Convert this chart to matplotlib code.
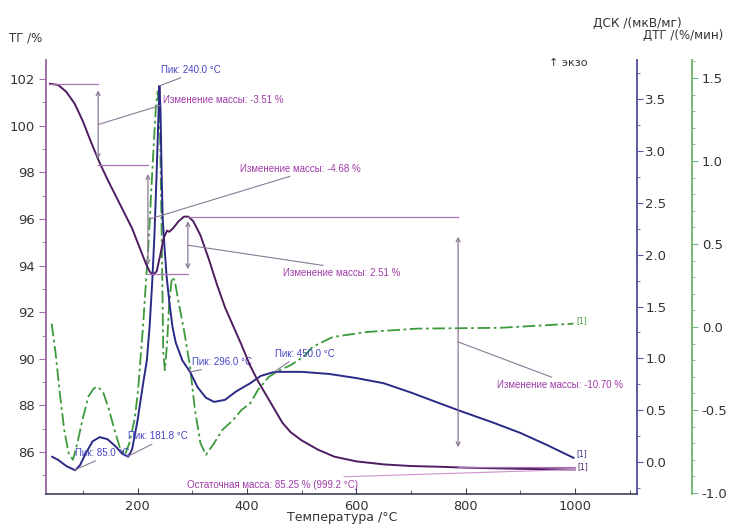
import matplotlib
matplotlib.use('Agg')
import matplotlib.pyplot as plt
import numpy as np
from matplotlib.ticker import MultipleLocator

# ---------------- data ----------------
tg_temp = [40, 55, 70, 85, 100, 115, 130, 145, 160, 175, 190, 205, 215, 222, 228, 235,
           242, 248, 254, 258, 265, 275, 285, 293, 302, 315, 330, 345, 360, 375, 390,
           405, 420, 435, 450, 465, 480, 500, 530, 560, 600, 650, 700, 750, 800, 900, 999]
tg_val = [101.8, 101.75, 101.45, 100.95, 100.2, 99.3, 98.45, 97.7, 97.0, 96.3, 95.6,
          94.7, 94.1, 93.75, 93.6, 93.75, 94.5, 95.2, 95.5, 95.45, 95.6, 95.9, 96.1,
          96.1, 95.9, 95.3, 94.3, 93.2, 92.2, 91.4, 90.6, 89.75, 89.05, 88.45, 87.85,
          87.25, 86.85, 86.5, 86.1, 85.8, 85.6, 85.47, 85.4, 85.37, 85.33, 85.28, 85.25]

dsc_temp = [44, 55, 70, 86, 95, 105, 118, 131, 145, 160, 172, 183, 190, 200, 210, 217,
            222, 227, 231, 235, 238, 240, 242, 244, 246, 249, 253, 258, 264, 270, 282,
            296, 310, 325, 340, 360, 380, 406, 425, 450, 500, 550, 600, 650, 700, 720,
            786, 850, 900, 950, 997]
dsc_val = [0.05, 0.02, -0.04, -0.08, -0.03, 0.08, 0.2, 0.24, 0.22, 0.15, 0.08, 0.05,
           0.12, 0.4, 0.75, 0.98, 1.3, 1.75, 2.2, 2.8, 3.3, 3.63, 3.4, 2.8, 2.35, 2.1,
           1.8, 1.55, 1.3, 1.15, 0.98, 0.87, 0.72, 0.62, 0.58, 0.6, 0.68, 0.76, 0.83,
           0.87, 0.87, 0.85, 0.81, 0.76, 0.67, 0.63, 0.5, 0.38, 0.28, 0.16, 0.04]

dtg_temp = [43, 50, 58, 66, 74, 82, 90, 100, 110, 120, 128, 138, 148, 158, 168, 177,
            185, 195, 201, 210, 220, 228, 234, 237, 241, 244, 247, 250, 254, 258, 263,
            268, 275, 285, 296, 305, 315, 325, 340, 355, 375, 390, 406, 420, 440, 460,
            480, 503, 520, 557, 620, 711, 863, 997]
dtg_val = [0.02, -0.15, -0.4, -0.62, -0.76, -0.8, -0.7, -0.55, -0.42, -0.37, -0.36,
           -0.4, -0.5, -0.62, -0.73, -0.77, -0.7, -0.55, -0.38, 0.0, 0.5, 1.0, 1.35,
           1.42, 1.2, 0.6, -0.15, -0.26, -0.1, 0.15, 0.3, 0.28, 0.15, -0.02, -0.24,
           -0.5, -0.7, -0.77, -0.7, -0.62, -0.56, -0.5, -0.46, -0.38, -0.3, -0.26,
           -0.23, -0.18, -0.12, -0.06, -0.03, -0.01, -0.005, 0.02]

peak_temps = [85.0, 181.8, 240.0, 296.0, 450.0]
peak_labels = ["Пик: 85.0 °C", "Пик: 181.8 °C", "Пик: 240.0 °C", "Пик: 296.0 °C", "Пик: 450.0 °C"]

step_temps = [128, 219, 292, 786]
step_levels = [101.8, 98.3, 93.65, 96.1, 85.35]
step_changes = ["-3.51", "-4.68", "2.51", "-10.70"]
residual_mass = 85.25
residual_temp = 999.2

x_ticks = [200, 400, 600, 800, 1000]
tg_ticks = [86, 88, 90, 92, 94, 96, 98, 100, 102]
dsc_ticks = [0.0, 0.5, 1.0, 1.5, 2.0, 2.5, 3.0, 3.5]
dtg_ticks = [-1.0, -0.5, 0.0, 0.5, 1.0, 1.5]

# ---------------- style ----------------
C_TG = '#4e1c60'
C_DSC = '#2a2a86'
C_DTG = '#3c9a3c'
C_TG_SP = '#a070a8'
C_DSC_SP = '#5a5aa8'
C_DTG_SP = '#78b878'
C_MASS = '#a03aa8'
C_PEAK = '#4444c4'
C_LEV = '#a874b4'
C_LEAD = '#8a7a92'
NARROW = ['Liberation Sans Narrow', 'Liberation Sans', 'DejaVu Sans']

plt.rcParams['font.family'] = ['DejaVu Sans']

fig = plt.figure(figsize=(7.29, 5.25), dpi=100)
ax = fig.add_axes([46 / 729, 31 / 525, 591 / 729, 434 / 525])
ax_dsc = ax.twinx()
ax_dtg = ax.twinx()

ax.set_zorder(3)
ax.patch.set_visible(False)
ax_dsc.set_zorder(2)
ax_dtg.set_zorder(1)

ax.set_xlim(32.7, 1113)
ax.set_ylim(84.2, 102.82)
ax_dsc.set_ylim(-0.309, 3.88)
ax_dtg.set_ylim(-1.006, 1.608)

# curves
ax_dtg.plot(dtg_temp, dtg_val, color=C_DTG, lw=1.3, ls=(0, (7, 2, 1.5, 2)))
ax_dsc.plot(dsc_temp, dsc_val, color=C_DSC, lw=1.4)
ax.plot(tg_temp, tg_val, color=C_TG, lw=1.4)

# spines
for a in (ax, ax_dsc, ax_dtg):
    a.spines['top'].set_visible(False)
ax.spines['left'].set_color(C_TG_SP)
ax.spines['bottom'].set_color('#404058')
ax.spines['right'].set_visible(False)
ax_dsc.spines['left'].set_visible(False)
ax_dsc.spines['bottom'].set_visible(False)
ax_dsc.spines['right'].set_color(C_DSC_SP)
ax_dsc.spines['right'].set_linewidth(1.4)
ax_dtg.spines['left'].set_visible(False)
ax_dtg.spines['bottom'].set_visible(False)
ax_dtg.spines['right'].set_position(('axes', (692 - 46) / 591))
ax_dtg.spines['right'].set_color(C_DTG_SP)
ax_dtg.spines['right'].set_linewidth(1.4)
ax.spines['left'].set_linewidth(1.4)
ax.spines['bottom'].set_linewidth(1.2)

# ticks
ax.set_xticks(x_ticks)
ax.xaxis.set_minor_locator(MultipleLocator(100))
ax.set_yticks(tg_ticks)
ax.yaxis.set_minor_locator(MultipleLocator(1))
ax_dsc.set_yticks(dsc_ticks)
ax_dsc.set_yticklabels([f'{v:.1f}' for v in dsc_ticks])
ax_dsc.yaxis.set_minor_locator(MultipleLocator(0.25))
ax_dtg.set_yticks(dtg_ticks)
ax_dtg.set_yticklabels([f'{v:.1f}' for v in dtg_ticks])
ax_dtg.yaxis.set_minor_locator(MultipleLocator(0.1))

ax.tick_params(axis='x', which='major', direction='in', length=4, labelsize=9.3,
               colors='#404058', labelcolor='#333333', pad=4)
ax.tick_params(axis='x', which='minor', direction='in', length=3, colors='#404058')
ax.tick_params(axis='y', which='major', direction='out', length=5, labelsize=9.5,
               colors=C_TG_SP, labelcolor='#333333', pad=3)
ax.tick_params(axis='y', which='minor', direction='out', length=3, colors=C_TG_SP)
ax_dsc.tick_params(axis='y', which='major', direction='out', length=4, labelsize=9.5,
                   colors=C_DSC_SP, labelcolor='#333333', pad=2)
ax_dsc.tick_params(axis='y', which='minor', direction='out', length=2.5, colors=C_DSC_SP)
ax_dtg.tick_params(axis='y', which='major', direction='out', length=4, labelsize=9.5,
                   colors=C_DTG_SP, labelcolor='#333333', pad=3)
ax_dtg.tick_params(axis='y', which='minor', direction='out', length=2.5, colors=C_DTG_SP)

# ---------------- mass-change annotations ----------------
seg_starts = [tg_temp[0]] + step_temps
seg_ends = step_temps + [tg_temp[-1]]
for lvl, t0, t1 in zip(step_levels, seg_starts, seg_ends):
    ax.plot([t0, t1], [lvl, lvl], color=C_LEV, lw=0.9)

mass_offsets = [(65, 20, 'bottom', (0.0, 0.0)),
                (92, 46, 'bottom', (0.49, 0.0)),
                (95, -23, 'top', (0.5, 1.0)),
                (39, -38, 'top', (0.49, 1.0))]
for i, t in enumerate(step_temps):
    a, b = step_levels[i], step_levels[i + 1]
    ins = 0.08 * (b - a)
    ax.annotate('', xy=(t, b - ins), xytext=(t, a + ins),
                arrowprops=dict(arrowstyle='<->', color=C_LEAD, lw=0.9,
                                mutation_scale=7, shrinkA=0, shrinkB=0))
    dx, dy, va, rp = mass_offsets[i]
    ax.annotate(f'Изменение массы: {step_changes[i]} %', xy=(t, (a + b) / 2),
                xytext=(dx, dy), textcoords='offset pixels', ha='left', va=va,
                fontsize=7.0, color=C_MASS, family=NARROW,
                arrowprops=dict(arrowstyle='-', color=C_LEAD, lw=0.8,
                                shrinkA=0, shrinkB=0, relpos=rp))

ax.annotate(f'Остаточная масса: {residual_mass:.2f} % ({residual_temp:.1f} °C)',
            xy=(residual_temp, residual_mass), xytext=(-217, -15),
            textcoords='offset pixels', ha='right', va='center',
            fontsize=7.0, color=C_MASS, family=NARROW,
            arrowprops=dict(arrowstyle='-', color='#d090d0', lw=0.8,
                            shrinkA=0, shrinkB=0, relpos=(0.4, 1.0)))

# ---------------- DSC peak annotations ----------------
peak_offsets = [(0, 17, (0.5, 0.0)),
                (0, 20, (0.5, 0.0)),
                (2, 16, (0.45, 0.0)),
                (2, 10, (0.4, 0.0)),
                (1, 18, (0.3, 0.0))]
for t, lab, (dx, dy, rp) in zip(peak_temps, peak_labels, peak_offsets):
    v = np.interp(t, dsc_temp, dsc_val)
    ax_dsc.annotate(lab, xy=(t, v), xytext=(dx, dy), textcoords='offset pixels',
                    ha='left', va='center', fontsize=7.0, color=C_PEAK, family=NARROW,
                    arrowprops=dict(arrowstyle='-', color=C_LEAD, lw=0.8,
                                    shrinkA=0, shrinkB=0, relpos=rp))

# end markers
ax_dtg.annotate('[1]', xy=(dtg_temp[-1], dtg_val[-1]), xytext=(3, 3),
                textcoords='offset pixels', fontsize=5.5, color=C_DTG, va='center')
ax_dsc.annotate('[1]', xy=(dsc_temp[-1], dsc_val[-1]), xytext=(3, 4),
                textcoords='offset pixels', fontsize=5.5, color=C_DSC, va='center')
ax.annotate('[1]', xy=(tg_temp[-1], tg_val[-1]), xytext=(3, 3),
            textcoords='offset pixels', fontsize=5.5, color=C_TG, va='center')

# ---------------- axis titles ----------------
fig.text(26 / 729, 1 - 38 / 525, 'ТГ /%', ha='center', va='center', fontsize=8.5, color='#333333')
fig.text(637 / 729, 1 - 23 / 525, 'ДСК /(мкВ/мг)', ha='center', va='center', fontsize=8.7, color='#333333')
fig.text(643 / 729, 1 - 35 / 525, 'ДТГ /(%/мин)', ha='left', va='center', fontsize=8.5, color='#333333')
fig.text(568 / 729, 1 - 63 / 525, '↑ экзо', ha='center', va='center', fontsize=8, color='#333333')
fig.text(342 / 729, 1 - 518 / 525, 'Температура /°C', ha='center', va='center', fontsize=9, color='#333333')

fig.savefig('out.png', dpi=100)
